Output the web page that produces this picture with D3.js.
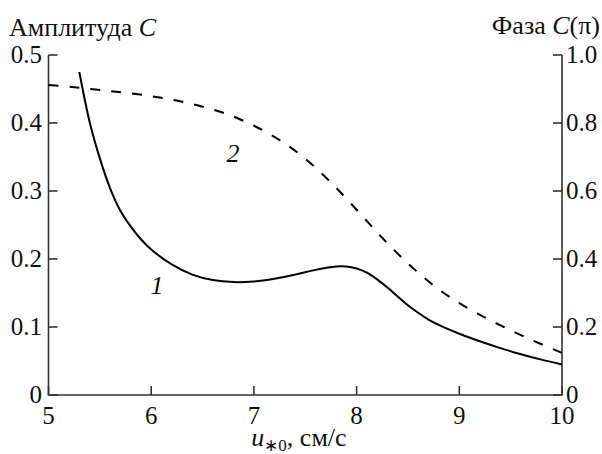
<!DOCTYPE html>
<html>
<head>
<meta charset="utf-8">
<script src="https://cdn.jsdelivr.net/npm/d3@7"></script>
</head>
<body style="margin:0">
<div id="chart"></div>
<script>
// Amplitude (curve 1, left axis) and phase (curve 2, right axis) vs u*0

var ampU = [5.3, 5.4, 5.5, 5.6, 5.7, 5.8, 5.9, 6.0, 6.2, 6.4, 6.6, 6.8, 7.0, 7.2, 7.4, 7.6, 7.8, 7.9, 8.0, 8.1, 8.2, 8.3, 8.4, 8.5, 8.6, 8.7, 8.8, 9.0, 9.2, 9.4, 9.6, 9.8, 10.0];
var ampC = [0.475, 0.402, 0.348, 0.304, 0.271, 0.248, 0.229, 0.214, 0.192, 0.177, 0.169, 0.166, 0.167, 0.171, 0.177, 0.184, 0.189, 0.189, 0.186, 0.180, 0.170, 0.158, 0.145, 0.132, 0.121, 0.111, 0.103, 0.090, 0.079, 0.069, 0.060, 0.052, 0.045];

var phaseU = [5.0, 5.25, 5.5, 5.75, 6.0, 6.25, 6.5, 6.75, 7.0, 7.25, 7.5, 7.75, 8.0, 8.25, 8.5, 8.75, 9.0, 9.25, 9.5, 9.75, 10.0];
var phaseC = [0.912, 0.905, 0.897, 0.889, 0.879, 0.866, 0.848, 0.825, 0.792, 0.75, 0.695, 0.625, 0.545, 0.462, 0.387, 0.322, 0.27, 0.228, 0.19, 0.156, 0.124];

var xTicks = [5, 6, 7, 8, 9, 10];
var leftTicks = [0, 0.1, 0.2, 0.3, 0.4, 0.5];
var rightTicks = [0, 0.2, 0.4, 0.6, 0.8, 1.0];

var width = 602, height = 454;
var m = { left: 48.5, right: 40, top: 55, bottom: 59 };

var svg = d3.select("#chart").append("svg")
    .attr("width", width)
    .attr("height", height);

var x = d3.scaleLinear().domain([5, 10]).range([m.left, width - m.right]);
var yL = d3.scaleLinear().domain([0, 0.5]).range([height - m.bottom, m.top]);
var yR = d3.scaleLinear().domain([0, 1.0]).range([height - m.bottom, m.top]);

var fmt = function(d) { return d === 0 ? "0" : d3.format(".1f")(d); };
var y0 = yL(0), x0 = x(5), x1 = x(10), tk = 9;

// axis frame: left, bottom, right (no top line)
var axes = svg.append("g").attr("stroke", "#333").attr("stroke-width", 1.6).attr("fill", "none");
axes.append("path").attr("d", "M" + x0 + "," + yL(0.5) + "V" + y0 + "H" + x1 + "V" + yR(1.0));

// inward ticks
axes.selectAll(".tx").data(xTicks).enter().append("line")
    .attr("x1", function(d) { return x(d); }).attr("x2", function(d) { return x(d); })
    .attr("y1", y0).attr("y2", y0 - tk);
axes.selectAll(".tl").data(leftTicks).enter().append("line")
    .attr("x1", x0).attr("x2", x0 + tk)
    .attr("y1", function(d) { return yL(d); }).attr("y2", function(d) { return yL(d); });
axes.selectAll(".tr").data(rightTicks).enter().append("line")
    .attr("x1", x1).attr("x2", x1 - tk)
    .attr("y1", function(d) { return yR(d); }).attr("y2", function(d) { return yR(d); });

function label(sel, size) {
  return sel.attr("font-family", "Times New Roman")
      .attr("font-size", size || 25)
      .attr("fill", "#111");
}

// tick labels
label(svg.selectAll(".xl").data(xTicks).enter().append("text"))
    .attr("x", function(d) { return x(d); })
    .attr("y", 424)
    .attr("text-anchor", "middle")
    .text(function(d) { return d; });

label(svg.selectAll(".yl").data(leftTicks).enter().append("text"))
    .attr("x", 42)
    .attr("y", function(d) { return yL(d) + 7.5; })
    .attr("text-anchor", "end")
    .text(fmt);

label(svg.selectAll(".yr").data(rightTicks).enter().append("text"))
    .attr("x", 566)
    .attr("y", function(d) { return yR(d) + 7.5; })
    .attr("text-anchor", "start")
    .text(fmt);

// axis titles
var tl = label(svg.append("text"), 26).attr("x", 9).attr("y", 36);
tl.append("tspan").text("Амплитуда ");
tl.append("tspan").attr("font-style", "italic").text("C");

var tr = label(svg.append("text"), 26).attr("x", 600).attr("y", 34).attr("text-anchor", "end");
tr.append("tspan").text("Фаза ");
tr.append("tspan").attr("font-style", "italic").text("C");
tr.append("tspan").text("(π)");

var tx = label(svg.append("text"), 26).attr("x", 299).attr("y", 446).attr("text-anchor", "middle");
tx.append("tspan").attr("font-style", "italic").text("u");
tx.append("tspan").attr("dy", 5).attr("font-size", 17).text("∗0");
tx.append("tspan").attr("dy", -5).text(", см/с");

// curves
var ampLine = d3.line()
    .x(function(d, i) { return x(ampU[i]); })
    .y(function(d) { return yL(d); })
    .curve(d3.curveCatmullRom);
var phaseLine = d3.line()
    .x(function(d, i) { return x(phaseU[i]); })
    .y(function(d) { return yR(d); })
    .curve(d3.curveCatmullRom);

svg.append("path")
    .attr("d", phaseLine(phaseC))
    .attr("fill", "none")
    .attr("stroke", "#000")
    .attr("stroke-width", 2)
    .attr("stroke-dasharray", "10,11");

svg.append("path")
    .attr("d", ampLine(ampC))
    .attr("fill", "none")
    .attr("stroke", "#000")
    .attr("stroke-width", 2);

// curve numbers
label(svg.append("text"), 26).attr("x", 233).attr("y", 162).attr("text-anchor", "middle")
    .attr("font-style", "italic").text("2");
label(svg.append("text"), 26).attr("x", 157).attr("y", 294).attr("text-anchor", "middle")
    .attr("font-style", "italic").text("1");
</script>
</body>
</html>
